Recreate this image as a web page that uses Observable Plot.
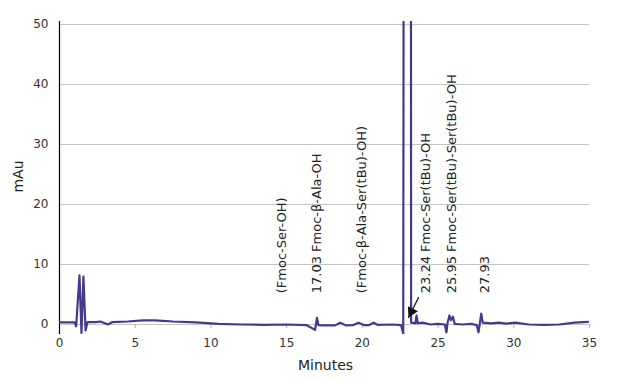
<!DOCTYPE html>
<html>
<head>
<meta charset="utf-8">
<script src="https://cdn.jsdelivr.net/npm/d3@7"></script>
<script src="https://cdn.jsdelivr.net/npm/@observablehq/plot@0.6"></script>
<style>
  html, body { margin: 0; padding: 0; background: #fff; }
  svg { display: block; }
</style>
</head>
<body>
<div id="chart"></div>
<script>
// Chromatogram trace (minutes, mAu)
const times = [0, 1.0, 1.1, 1.32, 1.45, 1.58, 1.72, 1.85, 2.4, 2.7, 3.0, 3.2, 3.5, 4.5, 5.5, 6.3, 7.5, 9, 10.5, 12, 13.5, 15, 16.3, 16.88, 17.0, 17.1, 17.4, 18.2, 18.55, 18.9, 19.4, 19.75, 20.1, 20.45, 20.75, 21.0, 22.0, 22.55, 22.7, 22.82, 23.16, 23.22, 23.5, 23.58, 23.66, 24.0, 24.5, 25.0, 25.45, 25.55, 25.62, 25.75, 25.85, 25.98, 26.1, 26.6, 27.2, 27.55, 27.67, 27.85, 27.95, 28.5, 29.0, 29.5, 30.1, 31.0, 32.0, 33.0, 34.0, 34.9];
const mAu   = [0.35, 0.35, -0.3, 8.2, -1.4, 8.0, -1.0, 0.4, 0.4, 0.5, 0.2, 0.0, 0.4, 0.5, 0.7, 0.7, 0.5, 0.35, 0.1, 0.0, -0.05, 0.0, -0.1, -0.9, 1.1, -0.1, -0.15, -0.15, 0.3, -0.15, -0.1, 0.3, -0.1, -0.1, 0.3, -0.05, 0.0, -0.1, -1.5, 300, 300, 0.3, 0.2, 1.5, 0.2, 0.3, 0.0, 0.1, 0.0, -1.3, 0.2, 1.5, 0.7, 1.3, 0.1, 0.0, 0.1, -0.1, -1.3, 1.8, 0.3, 0.2, 0.3, 0.15, 0.3, 0.0, -0.05, 0.0, 0.3, 0.45];

// Peak annotations
const labelTimes = [14.7, 17.02, 19.99, 24.17, 25.93, 28.07];
const labelTexts = ["(Fmoc-Ser-OH)", "17.03 Fmoc-β-Ala-OH", "(Fmoc-β-Ala-Ser(tBu)-OH)", "23.24 Fmoc-Ser(tBu)-OH", "25.95 Fmoc-Ser(tBu)-Ser(tBu)-OH", "27.93"];
const labelBase = 5.2;

// Arrow pointing at the 23.24 peak
const arrowFrom = [23.71, 4.5];
const arrowTo = [23.05, 1.17];

// Axis ticks and titles
const yTicks = [0, 10, 20, 30, 40, 50];
const xTicks = [0, 5, 10, 15, 20, 25, 30, 35];
const xTitle = "Minutes";
const yTitle = "mAu";
const xTitlePos = [17.57, -6.85];
const yTitlePos = [-2.71, 24.67];

const trace = times.map((t, i) => ({t, v: mAu[i]}));
const labels = labelTimes.map((t, i) => ({t, text: labelTexts[i]}));

const chart = Plot.plot({
  width: 620,
  height: 380,
  marginLeft: 59,
  marginRight: 31,
  marginTop: 21,
  marginBottom: 46,
  style: {fontFamily: "DejaVu Sans, Verdana, sans-serif", background: "#fff"},
  x: {domain: [0, 35]},
  y: {domain: [-1.67, 50.5]},
  marks: [
    Plot.ruleY(yTicks, {stroke: "#c4c4c4", strokeWidth: 1}),
    Plot.ruleX(xTicks.slice(1), {y1: 0, y2: -0.7, stroke: "#b0b0b0"}),
    Plot.axisY({ticks: yTicks, tickSize: 0, tickPadding: 11, fontSize: 12, color: "#333", label: null}),
    Plot.axisX({ticks: xTicks, tickSize: 0, tickPadding: 4, fontSize: 12, color: "#333", label: null}),
    Plot.ruleX([0], {stroke: "#000", strokeWidth: 1.2}),
    Plot.line(trace, {x: "t", y: "v", stroke: "#47388c", strokeWidth: 2.2, clip: true}),
    Plot.text(labels, {x: "t", y: () => labelBase, text: "text", rotate: -90, textAnchor: "start", fontSize: 13, fill: "#222"}),
    Plot.arrow([{x1: arrowFrom[0], y1: arrowFrom[1], x2: arrowTo[0], y2: arrowTo[1]}], {x1: "x1", y1: "y1", x2: "x2", y2: "y2", stroke: "#111", strokeWidth: 1.3, headLength: 0}),
    Plot.dot([{x: arrowTo[0], y: arrowTo[1]}], {x: "x", y: "y", symbol: "triangle", r: 4.2, fill: "#111", stroke: "none", rotate: 206.6, dx: 2.9, dy: -5.8}),
    Plot.text([xTitle], {x: () => xTitlePos[0], y: () => xTitlePos[1], fontSize: 14, fill: "#222"}),
    Plot.text([yTitle], {x: () => yTitlePos[0], y: () => yTitlePos[1], rotate: -90, fontSize: 14, fill: "#222"})
  ]
});
document.getElementById("chart").appendChild(chart);
</script>
</body>
</html>
